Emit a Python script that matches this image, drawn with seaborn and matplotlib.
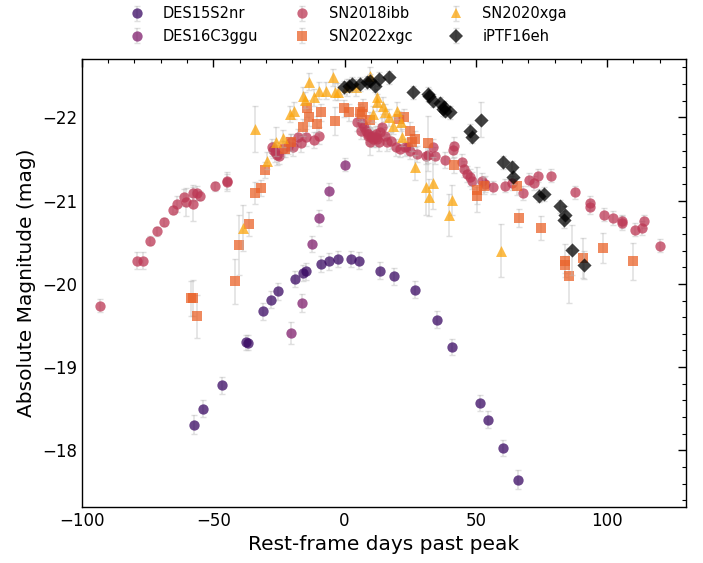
import numpy as np
import pandas as pd
import matplotlib
matplotlib.use("Agg")
import matplotlib.pyplot as plt
import seaborn as sns
from matplotlib.lines import Line2D
from matplotlib.legend_handler import HandlerTuple
from matplotlib.ticker import MultipleLocator

# ---------------- data ----------------
names = ["DES15S2nr", "DES16C3ggu", "SN2018ibb", "SN2022xgc", "SN2020xga", "iPTF16eh"]
markers = ["o", "o", "o", "s", "^", "D"]

des15_x = [-57.3, -54.0, -46.7, -37.7, -36.9, -31.2, -28.0, -25.5, -18.9, -15.7, -14.8, -9.1,
           -5.9, -2.6, 2.4, 5.6, 13.6, 18.8, 27.0, 35.0, 40.8, 51.5, 54.8, 60.4, 66.2]
des15_m = [-18.31, -18.50, -18.78, -19.30, -19.29, -19.67, -19.81, -19.91, -20.06, -20.13, -20.15,
           -20.24, -20.27, -20.30, -20.30, -20.28, -20.16, -20.09, -19.93, -19.57, -19.24, -18.57,
           -18.37, -18.03, -17.65]
des15_e = [0.11, 0.1, 0.1, 0.09, 0.09, 0.1, 0.1, 0.1, 0.1, 0.1, 0.1, 0.1,
           0.1, 0.1, 0.1, 0.1, 0.1, 0.1, 0.1, 0.1, 0.1, 0.1, 0.1, 0.1, 0.12]

des16_x = [-20.4, -16.3, -12.3, -9.7, -6.0, 0.2]
des16_m = [-19.41, -19.77, -20.48, -20.79, -21.11, -21.43]
des16_e = [0.13, 0.11, 0.1, 0.1, 0.1, 0.08]

ibb_x = [-93.2, -79.2, -76.7, -74.1, -71.5, -68.8, -65.5, -63.8, -61.2, -60.4, -57.7, -57.6, -56.1,
         -55.1, -49.4, -44.8, -44.8,
         -27.7, -27.1, -26.5, -25.8, -25.1, -23.3, -21.4, -20.5, -19.5, -17.6, -16.7, -14.8, -11.5, -9.8,
         4.9, 6.8, 6.2, 8.2, 9.1, 10.0, 11.0, 12.5, 13.5, 14.2, 9.7, 7.5, 8.8, 10.5, 11.8, 12.0, 15.5,
         16.0, 13.0, 17.6, 19.4, 21.2, 23.1, 24.3, 25.0, 27.7, 31.1, 31.9, 33.8, 34.6, 38.3, 41.5, 41.2,
         44.8, 45.3, 46.8, 47.8, 48.5, 52.5, 53.5, 56.7, 60.9, 63.7, 67.9, 70.1, 72.2, 73.5, 78.7, 87.6,
         93.6, 93.6, 98.6, 102.2, 105.6, 105.6, 110.4, 113.3, 114.1, 120.1]
ibb_m = [-19.74, -20.28, -20.28, -20.52, -20.63, -20.74, -20.89, -20.96, -21.04, -20.98, -20.96, -21.09,
         -21.09, -21.06, -21.17, -21.24, -21.22,
         -21.64, -21.61, -21.58, -21.55, -21.54, -21.62, -21.66, -21.70, -21.64, -21.76, -21.69, -21.76,
         -21.73, -21.78,
         -21.94, -21.93, -21.84, -21.84, -21.78, -21.76, -21.74, -21.74, -21.82, -21.89, -21.70, -21.88,
         -21.80, -21.78, -21.76, -21.80, -21.78, -21.70, -21.70, -21.72, -21.64, -21.62, -21.64, -21.65,
         -21.60, -21.56, -21.54, -21.55, -21.64, -21.54, -21.49, -21.66, -21.61, -21.46, -21.38, -21.32,
         -21.28, -21.24, -21.23, -21.20, -21.16, -21.18, -21.21, -21.09, -21.25, -21.21, -21.30, -21.30,
         -21.10, -20.97, -20.92, -20.83, -20.79, -20.75, -20.73, -20.65, -20.67, -20.75, -20.46]
ibb_e = [0.08, 0.1, 0.1, 0.05, 0.05, 0.05, 0.05, 0.1, 0.1, 0.17, 0.2, 0.1, 0.08,
         0.05, 0.05, 0.1, 0.1,
         0.1, 0.1, 0.12, 0.12, 0.1, 0.1, 0.1, 0.1, 0.1, 0.1, 0.1, 0.1, 0.1, 0.1,
         0.1, 0.1, 0.1, 0.1, 0.1, 0.1, 0.1, 0.1, 0.1, 0.1, 0.15, 0.1, 0.1, 0.1, 0.1, 0.1, 0.1,
         0.1, 0.1, 0.1, 0.1, 0.1, 0.1, 0.1, 0.1, 0.1, 0.1, 0.1, 0.1, 0.1, 0.1, 0.1, 0.1,
         0.1, 0.1, 0.1, 0.1, 0.1, 0.1, 0.1, 0.08, 0.08, 0.08, 0.08, 0.08, 0.08, 0.08, 0.08, 0.08,
         0.08, 0.08, 0.08, 0.08, 0.08, 0.08, 0.08, 0.08, 0.08, 0.08]

xgc_x = [-58.4, -57.6, -56.3, -41.7, -40.1, -36.4, -34.2, -31.8, -30.3, -22.7, -20.4, -15.8, -13.6,
         -14.2, -10.5, -9.0, -3.7, -0.1, 1.8, 5.9, 7.0, 6.8, 9.5, 20.9, 22.7, 25.0, 25.8, 27.0, 31.7,
         41.8, 50.6, 50.4, 53.2, 65.6, 66.5, 74.8, 84.1, 84.1, 85.4, 90.9, 98.4, 109.8]
xgc_m = [-19.83, -19.83, -19.61, -20.03, -20.47, -20.72, -21.09, -21.15, -21.37, -21.62, -21.70, -21.88,
         -22.00, -22.11, -21.92, -22.06, -21.96, -22.11, -22.06, -22.06, -22.12, -22.04, -21.97, -21.98,
         -22.00, -21.84, -21.70, -21.74, -21.69, -21.43, -21.13, -21.06, -21.18, -21.17, -20.79, -20.67,
         -20.28, -20.23, -20.10, -20.31, -20.43, -20.27]
xgc_e = [0.21, 0.22, 0.26, 0.27, 0.36, 0.14, 0.13, 0.1, 0.1, 0.1, 0.1, 0.1, 0.1,
         0.1, 0.1, 0.1, 0.17, 0.1, 0.1, 0.1, 0.1, 0.1, 0.1, 0.1, 0.1, 0.1, 0.1, 0.1, 0.33,
         0.1, 0.27, 0.1, 0.1, 0.1, 0.11, 0.14, 0.2, 0.1, 0.33, 0.24, 0.18, 0.22]

xga_x = [-38.8, -34.0, -29.4, -26.1, -23.4, -20.6, -19.1, -15.8, -14.9, -13.6, -11.5, -9.7, -7.1, -4.6,
         -3.8, -2.4, 1.0, 4.4, 9.7, 12.3, 12.3, 10.7, 14.8, 15.4, 17.1, 18.6, 19.9, 21.4, 21.8, 26.9,
         31.1, 32.3, 33.8, 39.6, 40.9, 59.6]
xga_m = [-20.67, -21.86, -21.48, -21.71, -21.75, -22.04, -22.08, -22.26, -22.21, -22.43, -22.24, -22.32,
         -22.32, -22.48, -22.31, -22.31, -22.36, -22.36, -22.50, -22.24, -22.18, -22.04, -22.14, -22.06,
         -22.00, -21.90, -22.08, -21.94, -21.76, -21.40, -21.16, -21.04, -21.21, -20.83, -21.01, -20.40]
xga_e = [0.28, 0.28, 0.1, 0.17, 0.1, 0.1, 0.1, 0.1, 0.1, 0.1, 0.1, 0.1, 0.1, 0.1,
         0.1, 0.1, 0.1, 0.1, 0.1, 0.1, 0.1, 0.1, 0.1, 0.1, 0.1, 0.1, 0.1, 0.1, 0.1, 0.15,
         0.33, 0.22, 0.31, 0.25, 0.18, 0.32]

ptf_x = [-0.2, 1.5, 2.7, 5.9, 8.5, 9.7, 11.4, 13.1, 17.1, 26.0, 31.7, 32.2, 33.6, 36.4, 37.4, 37.9,
         38.3, 40.2, 47.6, 48.5, 52.0, 60.3, 63.7, 64.3, 73.9, 76.0, 81.9, 84.0, 83.4, 86.5, 91.0]
ptf_m = [-22.36, -22.38, -22.40, -22.40, -22.42, -22.44, -22.38, -22.46, -22.48, -22.30, -22.28, -22.26,
         -22.20, -22.17, -22.10, -22.12, -22.08, -22.06, -21.84, -21.77, -21.97, -21.46, -21.40, -21.28,
         -21.06, -21.08, -20.93, -20.83, -20.77, -20.41, -20.23]
ptf_e = [0.08, 0.08, 0.08, 0.08, 0.08, 0.08, 0.08, 0.08, 0.08, 0.08, 0.08, 0.08,
         0.08, 0.08, 0.08, 0.08, 0.08, 0.08, 0.08, 0.08, 0.21, 0.08, 0.08, 0.08,
         0.08, 0.08, 0.08, 0.1, 0.1, 0.3, 0.17]

series_x = [des15_x, des16_x, ibb_x, xgc_x, xga_x, ptf_x]
series_m = [des15_m, des16_m, ibb_m, xgc_m, xga_m, ptf_m]
series_e = [des15_e, des16_e, ibb_e, xgc_e, xga_e, ptf_e]

# ---------------- style ----------------
sns.set_style("white", rc={"text.color": "black", "axes.labelcolor": "black",
                           "xtick.color": "black", "ytick.color": "black",
                           "axes.edgecolor": "black"})
plt.rcParams['font.family'] = ['DejaVu Sans']

cmap = sns.color_palette("inferno", as_cmap=True)
palette = [cmap(0.18), cmap(0.35), cmap(0.5), cmap(0.65), cmap(0.8), (0.0, 0.0, 0.0)]
sizes = [55, 55, 55, 52, 62, 52]

fig = plt.figure(figsize=(7.03, 5.63), dpi=100)
ax = fig.add_axes([0.1166, 0.0995, 0.8592, 0.7955])

handles = []
for i, name in enumerate(names):
    df = pd.DataFrame({"x": series_x[i], "m": series_m[i], "e": series_e[i]})
    eb = ax.errorbar(df["x"], df["m"], yerr=df["e"], fmt="none", ecolor="0.72",
                     elinewidth=1.1, capsize=2, capthick=1.0, alpha=0.45, zorder=2 + 2 * i)
    sns.scatterplot(data=df, x="x", y="m", ax=ax, color=palette[i], marker=markers[i],
                    s=sizes[i], alpha=0.75, linewidth=0, legend=False, zorder=3 + 2 * i)
    proxy = Line2D([], [], linestyle="none", marker=markers[i], color=palette[i],
                   markersize=np.sqrt(sizes[i]), alpha=0.75, markeredgewidth=0)
    handles.append((eb, proxy))

ax.set_xlim(-100, 130)
ax.set_ylim(-17.32, -22.70)
ax.xaxis.set_major_locator(MultipleLocator(50))
ax.xaxis.set_minor_locator(MultipleLocator(10))
ax.yaxis.set_major_locator(MultipleLocator(1))
ax.yaxis.set_minor_locator(MultipleLocator(0.2))
ax.tick_params(which="both", direction="in", top=True, right=True, labelsize=12, color="black",
               labelcolor="black")
ax.tick_params(which="major", length=6, width=1)
ax.tick_params(which="minor", length=3, width=0.8)
for sp in ax.spines.values():
    sp.set_color("black")
    sp.set_linewidth(1.0)

ax.set_xlabel("Rest-frame days past peak", fontsize=14.5, color="black")
ax.set_ylabel("Absolute Magnitude (mag)", fontsize=14.5, color="black")

fig.legend(handles, names, loc="upper center", bbox_to_anchor=(0.49, 1.012), ncol=3,
           frameon=False, fontsize=10.5, labelcolor="black",
           handler_map={tuple: HandlerTuple(ndivide=1)})

fig.savefig("out.png", dpi=100)
